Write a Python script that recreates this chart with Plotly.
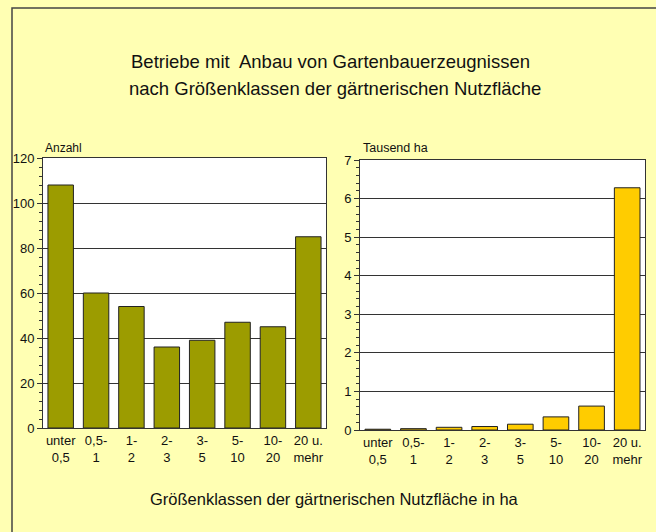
import plotly.graph_objects as go

categories = ["unter<br>0,5", "0,5-<br>1", "1-<br>2", "2-<br>3", "3-<br>5", "5-<br>10", "10-<br>20", "20 u.<br>mehr"]
betriebe_anzahl = [108, 60, 54, 36, 39, 47, 45, 85]
flaeche_tausend_ha = [0.02, 0.035, 0.07, 0.09, 0.15, 0.34, 0.62, 6.28]

W, H = 656, 532
FONT = "Liberation Sans, Arial, sans-serif"
BG = "#FFFFB3"

def px_x(p):
    return p / W

def px_y(p):
    return 1 - p / H

fig = go.Figure()
fig.add_trace(go.Bar(x=categories, y=betriebe_anzahl, xaxis="x", yaxis="y",
                     marker=dict(color="#9C9C00", line=dict(color="#222", width=1)),
                     showlegend=False, hoverinfo="skip"))
fig.add_trace(go.Bar(x=categories, y=flaeche_tausend_ha, xaxis="x2", yaxis="y2",
                     marker=dict(color="#FFCC00", line=dict(color="#222", width=1)),
                     showlegend=False, hoverinfo="skip"))

axis_common = dict(showline=True, linecolor="#333", linewidth=1, mirror=True, automargin=False,
                   tickfont=dict(family=FONT, size=13, color="#111"))

fig.update_layout(
    width=W, height=H,
    margin=dict(l=0, r=0, t=0, b=0, autoexpand=False),
    paper_bgcolor=BG, plot_bgcolor="white",
    bargap=0.28,
    font=dict(family=FONT, color="#111"),
    xaxis=dict(domain=[px_x(43), px_x(326)], ticks="", showgrid=False, **axis_common),
    yaxis=dict(domain=[px_y(428), px_y(158)], range=[0, 120], dtick=20,
               ticks="outside", ticklen=5, tickcolor="#333",
               minor=dict(dtick=4, ticks="outside", ticklen=3, tickcolor="#333", showgrid=False),
               showgrid=True, gridcolor="#333", gridwidth=1, zeroline=False,
               anchor="x", **axis_common),
    xaxis2=dict(domain=[px_x(360), px_x(645)], ticks="", showgrid=False, anchor="y2", **axis_common),
    yaxis2=dict(domain=[px_y(430), px_y(160)], range=[0, 7], dtick=1,
                ticks="outside", ticklen=5, tickcolor="#333",
                minor=dict(dtick=0.2, ticks="outside", ticklen=3, tickcolor="#333", showgrid=False),
                showgrid=True, gridcolor="#333", gridwidth=1, zeroline=False,
                anchor="x2", **axis_common),
    shapes=[dict(type="rect", xref="paper", yref="paper",
                 x0=px_x(12), y0=px_y(8), x1=1.05, y1=-0.05,
                 line=dict(color="#444", width=1.5), fillcolor="rgba(0,0,0,0)", layer="below")],
    annotations=[
        dict(text="Betriebe mit  Anbau von Gartenbauerzeugnissen", xref="paper", yref="paper",
             x=px_x(331), y=px_y(61), xanchor="center", yanchor="middle", showarrow=False,
             font=dict(family=FONT, size=18.5, color="#111")),
        dict(text="nach Größenklassen der gärtnerischen Nutzfläche", xref="paper", yref="paper",
             x=px_x(335), y=px_y(88), xanchor="center", yanchor="middle", showarrow=False,
             font=dict(family=FONT, size=18.5, color="#111")),
        dict(text="Anzahl", xref="paper", yref="paper", x=px_x(43), y=px_y(148),
             xanchor="left", yanchor="middle", showarrow=False,
             font=dict(family=FONT, size=12, color="#111")),
        dict(text="Tausend ha", xref="paper", yref="paper", x=px_x(361), y=px_y(148),
             xanchor="left", yanchor="middle", showarrow=False,
             font=dict(family=FONT, size=12.5, color="#111")),
        dict(text="Größenklassen der gärtnerischen Nutzfläche in ha", xref="paper", yref="paper",
             x=px_x(335), y=px_y(499), xanchor="center", yanchor="middle", showarrow=False,
             font=dict(family=FONT, size=16.5, color="#111")),
    ],
)

post = ("document.documentElement.style.margin='0';document.documentElement.style.padding='0';"
        "document.documentElement.style.overflow='hidden';"
        "document.body.style.margin='0';document.body.style.padding='0';"
        "document.body.style.overflow='hidden';document.body.style.background='" + BG + "';")
fig.write_html("out.html", config={"displayModeBar": False}, post_script=post)
